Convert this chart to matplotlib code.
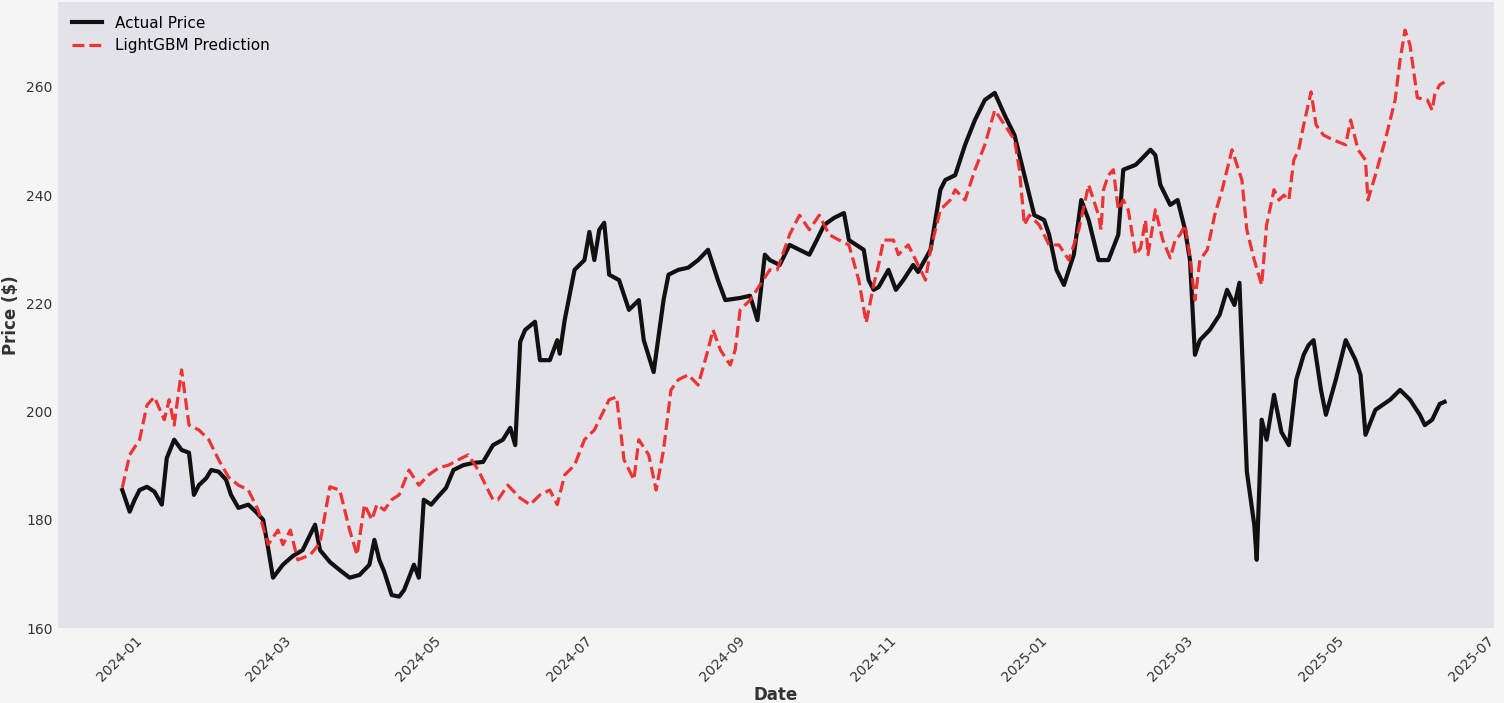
import numpy as np
import pandas as pd
import matplotlib
matplotlib.use("Agg")
import matplotlib.pyplot as plt
import matplotlib.dates as mdates

start = pd.Timestamp("2024-01-01")

actual_days = [1, 4, 6, 8, 11, 14, 17, 19, 22, 25, 28, 30, 32, 35, 37, 40, 43, 45, 48, 52, 55, 58, 60, 62,
               66, 70, 74, 79, 81, 85, 89, 93, 97, 101, 103, 105, 107, 110, 113, 115, 117, 119, 121, 123,
               126, 129, 132, 135, 139, 143, 147, 151, 155, 158, 160, 162, 164, 168, 170, 174, 177, 178,
               180, 182, 184, 188, 190, 192, 194, 196, 198, 202, 206, 210, 212, 216, 220, 222, 226, 230,
               234, 238, 242, 245, 251, 255, 258, 261, 263, 267, 271, 275, 279, 282, 285, 289, 293, 295,
               298, 301, 303, 305, 307, 311, 314, 317, 321, 323, 328, 330, 332, 334, 338, 342, 346, 350,
               354, 358, 362, 366, 370, 374, 376, 379, 382, 386, 389, 392, 396, 400, 404, 406, 411, 413,
               417, 419, 421, 425, 428, 431, 433, 435, 437, 441, 445, 448, 451, 453, 456, 459, 460, 462,
               464, 467, 470, 473, 476, 479, 481, 483, 486, 488, 492, 496, 500, 502, 504, 508, 514, 518,
               522, 526, 528, 531, 534, 536]
actual_price = [185.5, 181.5, 183.7, 185.5, 186.1, 185.2, 182.8, 191.4, 194.8, 192.9, 192.4, 184.6, 186.4,
                187.7, 189.2, 188.9, 187.4, 184.6, 182.2, 182.8, 181.5, 180.0, 174.8, 169.3, 171.7, 173.3,
                174.4, 179.1, 174.4, 172.2, 170.7, 169.3, 169.8, 171.7, 176.3, 172.6, 170.4, 166.1, 165.8,
                167.0, 169.3, 171.7, 169.3, 183.7, 182.8, 184.4, 185.9, 189.2, 190.1, 190.5, 190.7, 193.8,
                194.8, 197.0, 193.8, 212.9, 215.1, 216.6, 209.5, 209.5, 213.2, 210.7, 216.9, 221.6, 226.2,
                228.0, 233.2, 228.0, 233.6, 234.9, 225.3, 224.3, 218.8, 220.6, 213.2, 207.3, 220.6, 225.3,
                226.2, 226.6, 228.0, 229.9, 224.3, 220.6, 221.0, 221.4, 216.9, 229.0, 228.0, 227.1, 230.8,
                229.9, 229.0, 231.7, 234.5, 235.8, 236.7, 231.7, 230.8, 229.9, 224.3, 222.5, 223.0, 226.2,
                222.5, 224.3, 227.1, 225.8, 229.9, 235.4, 241.0, 242.8, 243.7, 249.3, 253.9, 257.6, 258.9,
                254.8, 251.1, 243.7, 236.3, 235.4, 232.7, 226.2, 223.4, 229.0, 239.1, 235.4, 228.0, 228.0,
                232.7, 244.7, 245.6, 246.5, 248.4, 247.4, 241.9, 238.2, 239.1, 233.6, 228.0, 210.5, 213.2,
                215.1, 217.9, 222.5, 219.7, 223.8, 188.9, 179.1, 172.6, 198.5, 194.8, 203.1, 196.2, 193.8,
                205.9, 210.5, 212.3, 213.2, 204.0, 199.4, 205.9, 213.2, 209.5, 206.8, 195.7, 200.3, 202.2,
                204.0, 202.2, 199.4, 197.5, 198.5, 201.4, 201.8]

pred_days = [1, 4, 8, 11, 14, 18, 20, 22, 25, 28, 32, 36, 40, 44, 48, 52, 56, 60, 64, 66, 69, 72, 77, 81,
             85, 89, 93, 96, 99, 102, 104, 107, 110, 113, 117, 121, 125, 129, 133, 137, 141, 145, 149, 151,
             153, 157, 162, 166, 170, 174, 177, 180, 184, 188, 192, 198, 201, 204, 208, 210, 214, 217, 220,
             223, 226, 230, 234, 238, 240, 243, 247, 249, 251, 255, 259, 263, 266, 271, 275, 279, 283, 287,
             291, 295, 299, 302, 305, 307, 309, 313, 315, 319, 323, 326, 328, 332, 336, 338, 342, 346, 350,
             354, 358, 362, 364, 366, 368, 372, 376, 380, 384, 388, 392, 394, 396, 397, 398, 400, 402, 404,
             406, 408, 411, 413, 415, 416, 419, 422, 425, 427, 429, 431, 433, 435, 437, 440, 443, 446, 450,
             454, 456, 459, 462, 464, 467, 469, 471, 473, 475, 477, 479, 482, 484, 487, 491, 496, 498, 501,
             504, 505, 508, 512, 516, 518, 520, 522, 525, 529, 531, 532, 534, 536]
pred_price = [185.9, 192.0, 194.8, 201.2, 202.7, 198.5, 202.2, 197.5, 207.7, 197.5, 196.6, 194.8, 191.1,
              187.9, 186.4, 185.5, 181.8, 175.4, 178.1, 175.4, 178.1, 172.6, 173.5, 175.7, 186.1, 185.5,
              178.1, 173.5, 182.8, 180.0, 182.8, 181.8, 183.7, 184.6, 189.2, 186.4, 188.3, 189.6, 190.1,
              191.1, 192.0, 189.2, 185.5, 183.7, 183.7, 186.4, 184.0, 182.8, 184.6, 185.5, 182.8, 188.3,
              190.1, 194.8, 196.6, 202.2, 202.7, 191.1, 187.4, 194.8, 192.0, 185.5, 192.9, 204.0, 205.9,
              206.8, 204.9, 211.4, 215.1, 211.4, 208.6, 211.4, 218.8, 220.6, 223.4, 226.2, 226.2, 232.7,
              236.3, 233.6, 236.3, 232.7, 231.7, 230.8, 224.3, 216.4, 223.4, 227.1, 231.7, 231.7, 229.0,
              230.8, 227.1, 224.3, 229.9, 237.3, 239.1, 241.0, 239.1, 244.7, 249.3, 255.7, 253.0, 250.2,
              244.7, 234.5, 236.3, 234.5, 230.8, 230.8, 228.0, 233.6, 241.9, 239.1, 236.3, 233.6, 241.0,
              243.7, 244.7, 237.3, 239.1, 237.3, 229.0, 230.2, 235.4, 229.0, 237.3, 231.7, 228.4, 231.7,
              232.7, 234.5, 228.4, 220.6, 228.0, 229.9, 236.3, 241.0, 248.4, 242.8, 233.6, 228.0, 223.4,
              234.5, 241.0, 239.1, 240.0, 239.1, 246.5, 248.4, 253.0, 259.1, 253.0, 251.1, 250.2, 249.3,
              253.9, 248.4, 246.5, 239.1, 243.7, 250.2, 257.6, 265.0, 270.5, 267.8, 258.0, 257.6, 255.7,
              258.5, 260.4, 260.9]

actual_dates = start + pd.to_timedelta(actual_days, unit="D")
pred_dates = start + pd.to_timedelta(pred_days, unit="D")

fig = plt.figure(figsize=(15.04, 7.03), dpi=100, facecolor="#f5f5f5")
ax = fig.add_axes([58 / 1504, 75 / 703, 1436 / 1504, 626 / 703])
ax.set_facecolor("#e2e2e8")
for s in ax.spines.values():
    s.set_visible(False)

ax.plot(actual_dates, actual_price, color="#111111", lw=3, label="Actual Price")
ax.plot(pred_dates, pred_price, color="#ee2a2a", lw=2.3, ls="--", alpha=0.95, label="LightGBM Prediction")

ax.set_xlim(pd.Timestamp("2023-12-07"), pd.Timestamp("2025-07-10"))
ax.set_ylim(160, 275.7)
ax.set_yticks([160, 180, 200, 220, 240, 260])
ax.xaxis.set_major_locator(mdates.MonthLocator(bymonth=[1, 3, 5, 7, 9, 11]))
ax.xaxis.set_major_formatter(mdates.DateFormatter("%Y-%m"))
plt.setp(ax.get_xticklabels(), rotation=45)
ax.tick_params(colors="#333333", labelsize=10, length=0, pad=4)

ax.set_xlabel("Date", fontsize=12, fontweight="bold", color="#333333", labelpad=1)
ax.set_ylabel("Price ($)", fontsize=12, fontweight="bold", color="#333333")
ax.legend(loc="upper left", frameon=False, fontsize=11)

fig.savefig("out.png", dpi=100, facecolor=fig.get_facecolor())
